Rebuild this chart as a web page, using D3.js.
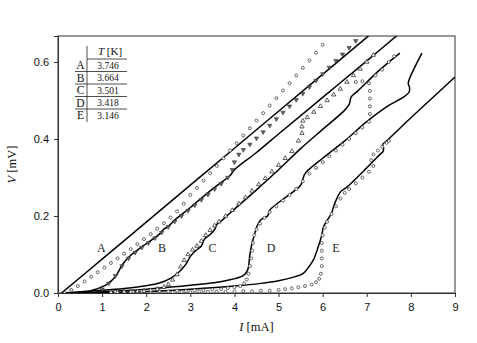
<!DOCTYPE html>
<html>
<head>
<meta charset="utf-8">
<script src="https://cdn.jsdelivr.net/npm/d3@7"></script>
<style>
  body { margin: 0; background: #fff; }
  svg { display: block; }
</style>
</head>
<body>
<svg id="chart"></svg>
<script>
// model curves (solid lines), [I mA, V mV]
const lineA = [[0.08,0],[1,0.088],[2,0.184],[3,0.28],[4,0.376],[5,0.472],[6,0.568],[7,0.664],[7.1,0.674]];
const lineB = [[0.5,0],[0.8,0.008],[1.1,0.022],[1.3,0.042],[1.45,0.072],[1.6,0.093],[1.9,0.12],[2.3,0.153],[2.4,0.166],[2.5,0.173],[2.65,0.19],[3,0.222],[3.5,0.27],[3.9,0.305],[4,0.32],[4.5,0.365],[5,0.413],[6,0.508],[7,0.603],[7.75,0.675]];
const lineC = [[0.1,0],[0.5,0.003],[1,0.007],[1.5,0.012],[2,0.019],[2.3,0.026],[2.55,0.038],[2.75,0.055],[2.9,0.075],[3,0.095],[3.1,0.108],[3.25,0.122],[3.32,0.14],[3.45,0.152],[3.55,0.165],[3.6,0.178],[3.75,0.192],[4,0.218],[4.5,0.268],[5,0.32],[5.5,0.375],[6,0.425],[6.5,0.475],[6.6,0.49],[6.65,0.51],[6.8,0.525],[7.25,0.575],[7.75,0.623]];
const lineD = [[0.4,0],[1,0.003],[2,0.01],[3,0.02],[3.8,0.032],[4.2,0.045],[4.3,0.06],[4.35,0.1],[4.4,0.13],[4.45,0.15],[4.5,0.17],[4.6,0.19],[4.75,0.2],[4.8,0.215],[5,0.235],[5.5,0.28],[5.55,0.295],[5.6,0.31],[6,0.35],[6.5,0.395],[7,0.445],[7.5,0.487],[7.85,0.51],[7.96,0.522],[7.97,0.533],[7.94,0.545],[7.98,0.56],[8.25,0.623]];
const lineE = [[0.7,0],[2,0.004],[3,0.01],[4,0.018],[4.6,0.025],[5,0.032],[5.3,0.04],[5.56,0.051],[5.7,0.07],[5.79,0.086],[5.9,0.12],[5.98,0.15],[6.02,0.172],[6.13,0.194],[6.2,0.207],[6.25,0.225],[6.3,0.24],[6.4,0.262],[6.55,0.275],[7,0.325],[7.3,0.36],[7.37,0.368],[7.38,0.378],[7.36,0.386],[7.45,0.395],[8,0.455],[9,0.561]];

// measured points
const dataA = [[0.15,0],[0.3,0.008],[0.45,0.018],[0.6,0.03],[0.75,0.042],[0.9,0.054],[1.05,0.066],[1.2,0.078],[1.35,0.09],[1.5,0.102],[1.65,0.114],[1.8,0.127],[1.95,0.14],[2.1,0.153],[2.25,0.167],[2.4,0.181],[2.55,0.196],[2.7,0.212],[2.85,0.232],[3,0.255],[3.15,0.273],[3.3,0.292],[3.45,0.311],[3.6,0.33],[3.75,0.35],[3.9,0.37],[4.05,0.389],[4.2,0.409],[4.35,0.428],[4.5,0.448],[4.65,0.467],[4.8,0.487],[4.95,0.506],[5.1,0.526],[5.25,0.545],[5.4,0.565],[5.55,0.585],[5.7,0.604],[5.85,0.624],[6,0.645]];
const dataB = [[1,0.01],[1.15,0.025],[1.3,0.045],[1.45,0.07],[1.6,0.09],[1.75,0.105],[1.9,0.118],[2.05,0.13],[2.2,0.143],[2.35,0.157],[2.5,0.172],[2.65,0.186],[2.8,0.2],[2.95,0.214],[3.1,0.228],[3.25,0.242],[3.4,0.256],[3.55,0.27],[3.7,0.284],[3.85,0.3],[3.95,0.32],[4,0.34],[4.1,0.36],[4.2,0.372],[4.35,0.386],[4.5,0.402],[4.65,0.418],[4.8,0.435],[4.95,0.452],[5.1,0.469],[5.25,0.485],[5.4,0.502],[5.55,0.518],[5.7,0.535],[5.85,0.552],[6,0.569],[6.15,0.586],[6.3,0.603],[6.45,0.62],[6.6,0.637],[6.75,0.655]];
const dataC = [[1.2,0.002],[1.35,0.002],[1.5,0.003],[1.65,0.003],[1.8,0.004],[1.95,0.005],[2.1,0.007],[2.25,0.01],[2.4,0.015],[2.5,0.022],[2.6,0.034],[2.7,0.048],[2.78,0.068],[2.86,0.085],[2.95,0.1],[3.05,0.112],[3.15,0.122],[3.25,0.135],[3.35,0.15],[3.45,0.163],[3.55,0.175],[3.65,0.185],[3.8,0.2],[3.95,0.215],[4.1,0.232],[4.25,0.248],[4.4,0.265],[4.55,0.282],[4.7,0.298],[4.85,0.315],[5,0.332],[5.15,0.35],[5.3,0.368],[5.45,0.395],[5.53,0.415],[5.53,0.432],[5.55,0.447],[5.65,0.456],[5.8,0.47],[5.95,0.485],[6.1,0.5],[6.25,0.515],[6.4,0.53],[6.55,0.548],[6.7,0.565],[6.85,0.582],[7,0.6],[7.15,0.618]];
const dataD = [[1.3,0.003],[1.5,0.002],[1.7,0.003],[1.9,0.004],[2.1,0.003],[2.3,0.005],[2.5,0.004],[2.7,0.006],[2.9,0.005],[3.1,0.007],[3.3,0.007],[3.5,0.009],[3.7,0.01],[3.85,0.013],[4,0.015],[4.13,0.018],[4.22,0.025],[4.28,0.035],[4.32,0.05],[4.35,0.07],[4.38,0.09],[4.4,0.11],[4.42,0.13],[4.45,0.15],[4.5,0.165],[4.58,0.18],[4.68,0.195],[4.8,0.21],[4.95,0.225],[5.1,0.24],[5.25,0.255],[5.4,0.27],[5.55,0.29],[5.7,0.31],[5.85,0.325],[6,0.34],[6.15,0.355],[6.3,0.37],[6.45,0.385],[6.6,0.4],[6.75,0.415],[6.9,0.43],[7.05,0.445],[7.07,0.465],[7.07,0.485],[7.07,0.505],[7.07,0.525],[7.05,0.545],[6.75,0.548],[6.9,0.55],[7.2,0.565],[7.35,0.58],[7.5,0.6],[7.62,0.615]];
const dataE = [[2.6,0.002],[2.8,0.003],[3,0.002],[3.2,0.004],[3.4,0.003],[3.6,0.004],[3.8,0.003],[4,0.004],[4.2,0.005],[4.4,0.004],[4.6,0.006],[4.8,0.006],[5,0.008],[5.15,0.01],[5.3,0.012],[5.45,0.015],[5.6,0.018],[5.75,0.022],[5.85,0.028],[5.92,0.037],[5.96,0.05],[5.98,0.07],[5.98,0.09],[5.98,0.11],[5.98,0.13],[6,0.15],[6.05,0.17],[6.1,0.185],[6.2,0.205],[6.3,0.225],[6.4,0.245],[6.5,0.26],[6.6,0.27],[6.75,0.285],[6.9,0.3],[7.05,0.315],[7.15,0.33],[7.1,0.345],[7.15,0.36],[7.25,0.37],[7.35,0.38],[7.45,0.39],[7.5,0.395]];

const curveNames = ['A', 'B', 'C', 'D', 'E'];
const labelPos = [[0.98,0.118],[2.36,0.118],[3.5,0.118],[4.83,0.118],[6.3,0.118]];
const temps = ['3.746', '3.664', '3.501', '3.418', '3.146'];
const xTicks = [0,1,2,3,4,5,6,7,8,9];
const yTicks = [0,0.2,0.4,0.6];

const width = 477, height = 343;
const margin = { top: 36, right: 22, bottom: 50, left: 58 };

const svg = d3.select('#chart').attr('width', width).attr('height', height);

const x = d3.scaleLinear().domain([0, 9]).range([margin.left, width - margin.right]);
const y = d3.scaleLinear().domain([0, 0.6675]).range([height - margin.bottom, margin.top]);

svg.append('defs').append('clipPath').attr('id', 'clip')
  .append('rect')
  .attr('x', margin.left).attr('y', margin.top)
  .attr('width', x(9) - margin.left).attr('height', y(0) - margin.top);

// axes
const xAxis = svg.append('g')
  .attr('transform', `translate(0,${y(0)})`)
  .call(d3.axisBottom(x).tickValues(xTicks).tickFormat(d3.format('d')).tickSizeOuter(0).tickSize(4).tickPadding(6));
const yAxis = svg.append('g')
  .attr('transform', `translate(${margin.left},0)`)
  .call(d3.axisLeft(y).tickValues(yTicks).tickFormat(d3.format('.1f')).tickSizeOuter(0).tickSize(4).tickPadding(5));
[xAxis, yAxis].forEach(g => {
  g.selectAll('text').attr('font-family', 'Liberation Sans, Arial, sans-serif').attr('font-size', 11).attr('fill', '#111');
  g.selectAll('line, path').attr('stroke', '#333');
});

// frame
svg.append('rect')
  .attr('x', margin.left).attr('y', margin.top)
  .attr('width', x(9) - margin.left).attr('height', y(0) - margin.top)
  .attr('fill', 'none').attr('stroke', '#333').attr('stroke-width', 1);

const plot = svg.append('g').attr('clip-path', 'url(#clip)');

const line = d3.line().x(d => x(d[0])).y(d => y(d[1])).curve(d3.curveCatmullRom.alpha(0.5));

[lineA, lineB, lineC, lineD, lineE].forEach(pts => {
  plot.append('path').datum(pts)
    .attr('d', line)
    .attr('fill', 'none').attr('stroke', '#000').attr('stroke-width', 1.5);
});

// circles
[dataA, dataD, dataE].forEach(pts => {
  plot.append('g').selectAll('circle').data(pts).join('circle')
    .attr('cx', d => x(d[0])).attr('cy', d => y(d[1])).attr('r', 1.5)
    .attr('fill', '#fff').attr('stroke', '#444').attr('stroke-width', 0.8);
});

// triangles
const tri = d3.symbol().type(d3.symbolTriangle).size(8);
plot.append('g').selectAll('path').data(dataB).join('path')
  .attr('d', tri)
  .attr('transform', d => `translate(${x(d[0])},${y(d[1])}) rotate(180)`)
  .attr('fill', '#666').attr('stroke', '#333').attr('stroke-width', 0.6);
plot.append('g').selectAll('path').data(dataC).join('path')
  .attr('d', tri)
  .attr('transform', d => `translate(${x(d[0])},${y(d[1])})`)
  .attr('fill', '#fff').attr('stroke', '#333').attr('stroke-width', 0.8);

// curve labels
svg.append('g').selectAll('text').data(curveNames).join('text')
  .attr('x', (d, i) => x(labelPos[i][0]))
  .attr('y', (d, i) => y(labelPos[i][1]))
  .attr('text-anchor', 'middle').attr('dy', '0.35em')
  .attr('font-family', 'Liberation Serif, Times New Roman, serif').attr('font-size', 12)
  .attr('fill', '#222')
  .text(d => d);

// axis titles
const xt = svg.append('text')
  .attr('x', (x(0) + x(9)) / 2).attr('y', 331)
  .attr('text-anchor', 'middle').attr('fill', '#111')
  .attr('font-family', 'Liberation Serif, Times New Roman, serif').attr('font-size', 12.5);
xt.append('tspan').attr('font-style', 'italic').text('I');
xt.append('tspan').text(' [mA]');

const yt = svg.append('text')
  .attr('transform', `translate(16,${(y(0) + y(0.6675)) / 2}) rotate(-90)`)
  .attr('text-anchor', 'middle').attr('fill', '#111')
  .attr('font-family', 'Liberation Serif, Times New Roman, serif').attr('font-size', 12.5);
yt.append('tspan').attr('font-style', 'italic').text('V');
yt.append('tspan').text(' [mV]');

// temperature table
const table = svg.append('g').attr('font-family', 'Liberation Serif, Times New Roman, serif').attr('fill', '#111');
const tx = 87, rowTop = 59, rowH = 12.5;
table.append('line').attr('x1', tx).attr('x2', tx).attr('y1', 46).attr('y2', 122).attr('stroke', '#222').attr('stroke-width', 0.8);
table.append('line').attr('x1', tx).attr('x2', 127).attr('y1', rowTop).attr('y2', rowTop).attr('stroke', '#222').attr('stroke-width', 0.8);
const ht = table.append('text').attr('x', 110).attr('y', 55).attr('text-anchor', 'middle').attr('font-size', 11);
ht.append('tspan').attr('font-style', 'italic').text('T');
ht.append('tspan').text(' [K]');
curveNames.forEach((n, i) => {
  const yb = rowTop + rowH * (i + 1);
  table.append('text').attr('x', 80.5).attr('y', yb - 2.5).attr('text-anchor', 'middle').attr('font-size', 11.5).text(n);
  table.append('text').attr('x', 108).attr('y', yb - 3).attr('text-anchor', 'middle').attr('font-size', 9.5).text(temps[i]);
  if (i < curveNames.length - 1) {
    table.append('line').attr('x1', 75).attr('x2', 127).attr('y1', yb).attr('y2', yb).attr('stroke', '#222').attr('stroke-width', 0.8);
  }
});
</script>
</body>
</html>
